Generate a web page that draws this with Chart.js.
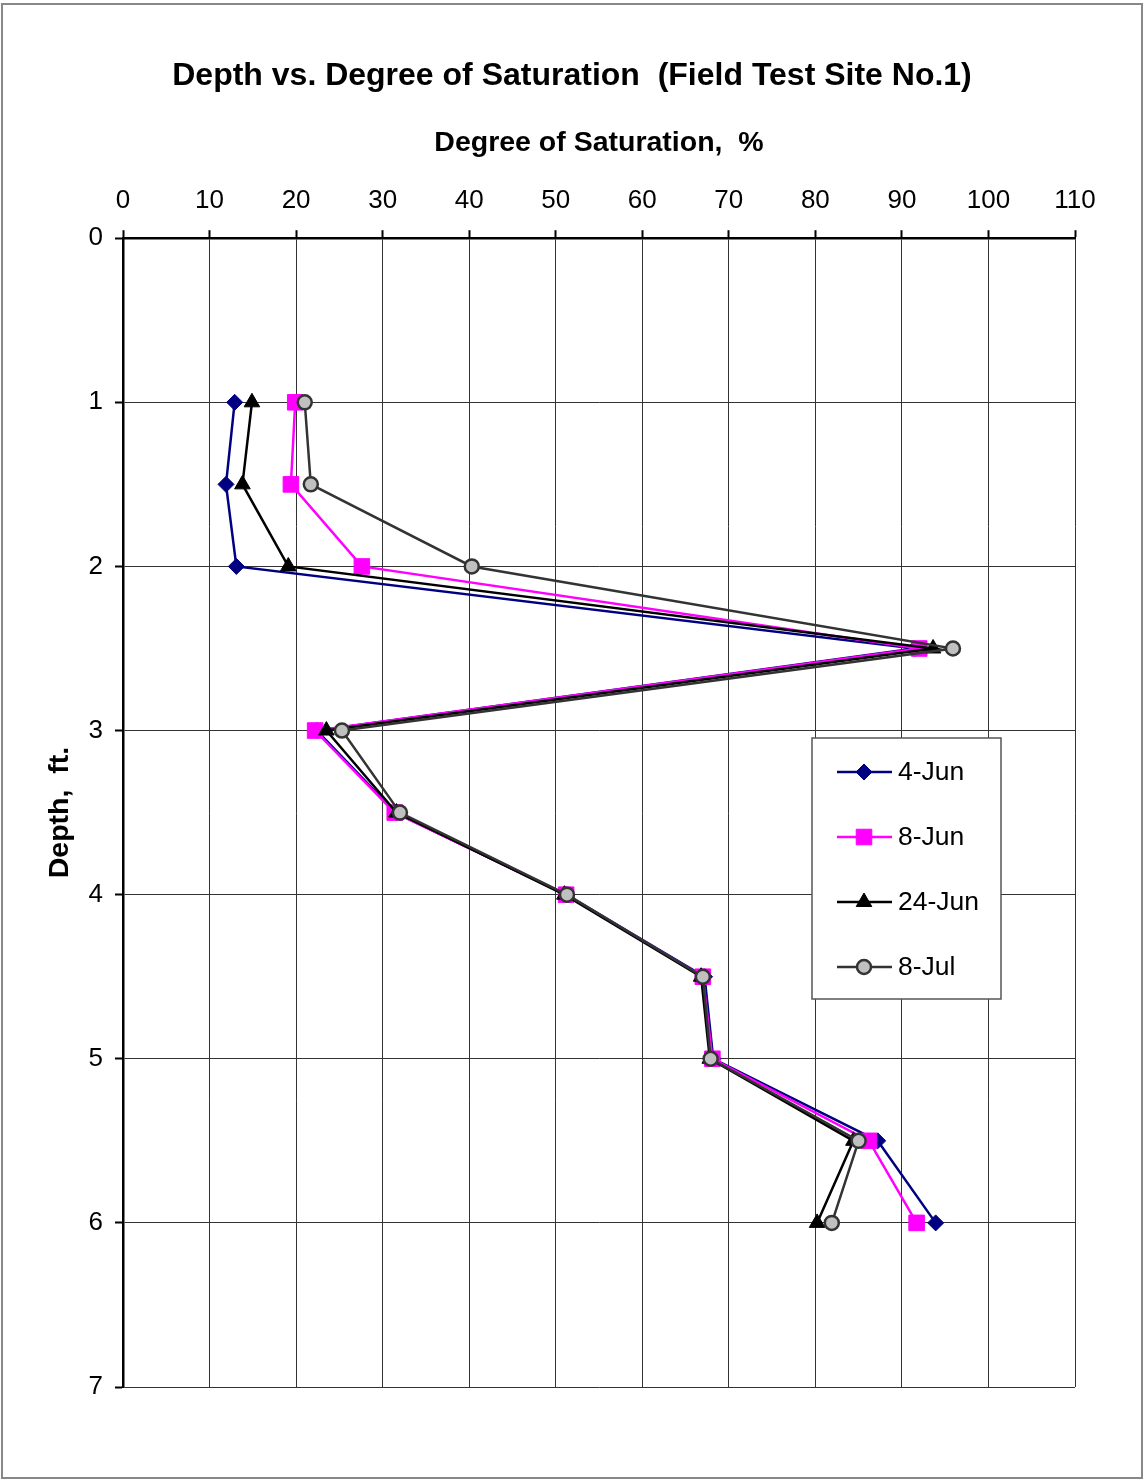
<!DOCTYPE html>
<html>
<head>
<meta charset="utf-8">
<script src="https://cdn.jsdelivr.net/npm/chart.js@4/dist/chart.umd.min.js"></script>
<style>
    html, body { margin: 0; padding: 0; background: #fff; }
    #wrap { width: 1144px; height: 1481px; }
</style>
</head>
<body>
<div id="wrap"><canvas id="satChart" width="1144" height="1481"></canvas></div>
<script>
        // Profondeurs (ft) et degré de saturation (%) par date
        const depths = [1, 1.5, 2, 2.5, 3, 3.5, 4, 4.5, 5, 5.5, 6];
        const sat4Jun = [12.9, 11.9, 13.1, 91.5, 22.4, 31.5, 51.2, 67.2, 68.2, 87.2, 93.9];
        const sat8Jun = [19.9, 19.4, 27.6, 92.0, 22.2, 31.4, 51.2, 67.0, 68.1, 86.2, 91.7];
        const sat24Jun = [14.9, 13.8, 19.1, 93.6, 23.5, 31.6, 51.0, 66.8, 67.8, 84.4, 80.2];
        const sat8Jul = [21.0, 21.7, 40.3, 95.9, 25.3, 32.0, 51.3, 67.0, 67.9, 85.0, 81.9];
        const seriesNames = ['4-Jun', '8-Jun', '24-Jun', '8-Jul'];
        const xTicks = [0, 10, 20, 30, 40, 50, 60, 70, 80, 90, 100, 110];
        const yTicks = [0, 1, 2, 3, 4, 5, 6, 7];

        const FONT = "'Liberation Sans', Arial, Helvetica, sans-serif";

        function pairs(values) {
            return values.map(function(v, i) { return { x: v, y: depths[i] }; });
        }

        const styles = [
            { color: '#000080', fill: '#000080', pointStyle: 'rectRot', radius: 8, borderWidth: 1, order: 3 },
            { color: '#FF00FF', fill: '#FF00FF', pointStyle: 'rect', radius: 11, borderWidth: 1, order: 2 },
            { color: '#000000', fill: '#000000', pointStyle: 'triangle', radius: 9, borderWidth: 1, order: 1 },
            { color: '#333333', fill: '#C0C0C0', pointStyle: 'circle', radius: 7, borderWidth: 2.5, order: 0 }
        ];
        const allValues = [sat4Jun, sat8Jun, sat24Jun, sat8Jul];

        const datasets = allValues.map(function(vals, i) {
            const s = styles[i];
            return {
                label: seriesNames[i],
                data: pairs(vals),
                showLine: true,
                borderColor: s.color,
                borderWidth: 2.5,
                backgroundColor: s.fill,
                pointStyle: s.pointStyle,
                pointRadius: s.radius,
                pointHoverRadius: s.radius,
                pointBorderColor: s.color,
                pointBackgroundColor: s.fill,
                pointBorderWidth: s.borderWidth,
                order: s.order
            };
        });

        // cadre de la page
        const pageFrame = {
            id: 'pageFrame',
            beforeDraw(chart) {
                const ctx = chart.ctx;
                ctx.save();
                ctx.fillStyle = '#fff';
                ctx.fillRect(0, 0, chart.width, chart.height);
                ctx.strokeStyle = '#888';
                ctx.lineWidth = 2;
                ctx.strokeRect(2, 4, chart.width - 4, chart.height - 7);
                ctx.restore();
            }
        };

        // légende dans la zone du graphique
        const insideLegend = {
            id: 'insideLegend',
            afterDraw(chart) {
                const ctx = chart.ctx;
                const bx = 812, by = 738, bw = 189, bh = 261;
                ctx.save();
                ctx.fillStyle = '#fff';
                ctx.fillRect(bx, by, bw, bh);
                ctx.strokeStyle = '#555';
                ctx.lineWidth = 1.5;
                ctx.strokeRect(bx, by, bw, bh);
                chart.data.datasets.forEach(function(ds, i) {
                    const y = by + 34 + i * 65;
                    ctx.strokeStyle = ds.borderColor;
                    ctx.lineWidth = 2.5;
                    ctx.beginPath();
                    ctx.moveTo(bx + 25, y);
                    ctx.lineTo(bx + 80, y);
                    ctx.stroke();
                    ctx.fillStyle = ds.pointBackgroundColor;
                    ctx.strokeStyle = ds.pointBorderColor;
                    ctx.lineWidth = ds.pointBorderWidth;
                    Chart.helpers.drawPoint(ctx, { pointStyle: ds.pointStyle, radius: ds.pointRadius, rotation: 0, borderWidth: ds.pointBorderWidth }, bx + 52, y);
                    ctx.fillStyle = '#000';
                    ctx.font = '26.5px ' + FONT;
                    ctx.textAlign = 'left';
                    ctx.textBaseline = 'middle';
                    ctx.fillText(ds.label, bx + 86, y + 1);
                });
                ctx.restore();
            }
        };

        const satCtx = document.getElementById('satChart').getContext('2d');
        const satChart = new Chart(satCtx, {
            type: 'scatter',
            data: { datasets: datasets },
            plugins: [pageFrame, insideLegend],
            options: {
                responsive: false,
                animation: false,
                devicePixelRatio: 1,
                layout: { padding: { top: 3, left: 3, right: 3, bottom: 94 } },
                plugins: {
                    legend: { display: false },
                    tooltip: { enabled: false },
                    title: {
                        display: true,
                        text: 'Depth vs. Degree of Saturation  (Field Test Site No.1)',
                        color: '#000',
                        font: { family: FONT, size: 32, weight: 'bold' },
                        padding: { top: 54, bottom: 10 }
                    }
                },
                scales: {
                    x: {
                        type: 'linear',
                        position: 'top',
                        min: 0,
                        max: 110,
                        afterBuildTicks: function(scale) {
                            scale.ticks = xTicks.map(function(v) { return { value: v }; });
                        },
                        afterFit: function(scale) { scale.height = 132.8; },
                        ticks: { color: '#000', padding: 13.5, font: { family: FONT, size: 26 } },
                        grid: { color: '#333', lineWidth: 1, tickColor: '#000', tickLength: 8, tickWidth: 2 },
                        border: { display: true, color: '#000', width: 2.5 },
                        title: {
                            display: true,
                            text: 'Degree of Saturation,  %',
                            color: '#000',
                            font: { family: FONT, size: 28.5, weight: 'bold' },
                            padding: { top: 21, bottom: 0 }
                        }
                    },
                    y: {
                        type: 'linear',
                        reverse: true,
                        min: 0,
                        max: 7,
                        afterBuildTicks: function(scale) {
                            scale.ticks = yTicks.map(function(v) { return { value: v }; });
                        },
                        afterFit: function(scale) { scale.width = 120; },
                        ticks: { color: '#000', padding: 12, font: { family: FONT, size: 26 } },
                        grid: { color: '#333', lineWidth: 1, tickColor: '#000', tickLength: 8, tickWidth: 2 },
                        border: { display: true, color: '#000', width: 2.5 },
                        title: {
                            display: true,
                            text: 'Depth,  ft.',
                            color: '#000',
                            font: { family: FONT, size: 28.5, weight: 'bold' },
                            padding: { top: 40, bottom: 0 }
                        }
                    },
                    // marge droite vide, pour que le titre soit centré sur la page
                    yRight: {
                        type: 'linear',
                        position: 'right',
                        afterFit: function(scale) { scale.width = 66; },
                        ticks: { display: false },
                        grid: { display: false },
                        border: { display: false }
                    }
                }
            }
        });
</script>
</body>
</html>
